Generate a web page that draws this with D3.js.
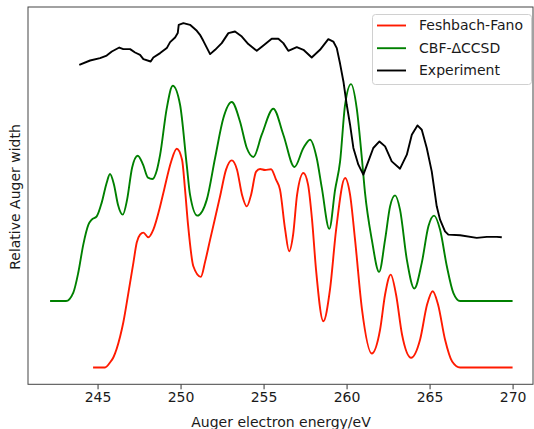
<!DOCTYPE html>
<html>
<head>
<meta charset="utf-8">
<script src="https://cdn.jsdelivr.net/npm/d3@7"></script>
<style>
  html, body { margin: 0; padding: 0; background: #fff; }
  svg { display: block; font-family: "DejaVu Sans", sans-serif; }
</style>
</head>
<body>
<div id="chart"></div>
<script>
// ---- Data (energy in eV, relative Auger width in arbitrary units) ----
const xTicks = [245, 250, 255, 260, 265, 270];
const seriesNames = ["Feshbach-Fano", "CBF-\u0394CCSD", "Experiment"];
const seriesColors = ["#ff1a00", "#008000", "#000000"];

const fanoE = [244.73,245.45,245.75,245.95,246.36,246.55,246.86,247.16,247.36,247.56,247.76,248.06,248.36,248.77,249.01,249.43,249.77,250.09,250.27,250.45,250.77,251.22,251.48,251.78,252.38,252.74,253.08,253.40,253.70,253.99,254.25,254.55,254.79,255.09,255.45,255.75,255.99,256.30,256.54,256.78,257.02,257.40,257.68,257.92,258.16,258.60,259.00,259.37,259.91,260.21,260.51,260.93,261.52,262.02,262.32,262.66,262.98,263.34,263.89,264.43,264.85,265.19,265.51,265.93,266.36,266.84,270.00];
const fanoW = [0,0,1.45,2.91,9.01,13.08,21.80,30.52,36.34,38.66,39.24,37.88,40.12,46.89,51.74,59.88,63.66,60.47,51.74,41.57,29.45,26.37,30.8,37.21,49.80,57.56,60.26,57.56,50.29,46.89,50.29,56.98,57.76,57.47,57.70,54.65,51.74,40.12,33.81,38.66,50.29,56.60,53.20,43.02,28.49,13.46,22.67,40.12,55.15,50.29,37.21,16.86,4.07,11.05,21.22,27.03,21.22,9.59,2.82,8.14,18.31,22.18,18.31,8.14,1.74,0,0];

const cbfE = [242.14,243.10,243.54,243.84,244.14,244.45,244.65,244.95,245.25,245.55,245.75,245.99,246.23,246.52,246.78,247.08,247.42,247.74,248.04,248.30,248.58,248.77,249.17,249.53,249.97,250.37,250.57,251.01,251.58,252.08,252.58,253.08,253.58,253.99,254.39,254.89,255.59,256.19,256.86,257.40,257.80,258.20,258.51,258.96,259.31,259.61,259.91,260.27,260.61,260.92,261.11,261.52,261.96,262.32,262.62,262.92,263.22,263.63,264.08,264.53,264.93,265.27,265.63,266.04,266.43,266.84,270.00];
const cbfW = [19.33,19.33,21.80,27.62,35.76,41.57,43.02,43.98,47.97,53.78,56.31,53.20,47.38,44.48,48.84,58.14,61.63,59.01,55.23,54.85,57.56,61.92,75.49,81.98,76.45,59.01,50.29,44.19,48.84,60.96,72.59,77.24,71.60,63.87,61.25,67.73,75.29,67.73,58.34,63.87,66.28,60.96,52.24,40.32,51.74,59.97,76.45,82.47,75.49,60.96,50.87,37.21,27.82,37.21,46.89,50.09,45.93,31.40,22.97,30.44,41.08,44.19,40.12,29.45,21.72,19.33,19.33];

const expE = [243.90,244.55,245.15,245.55,245.86,246.31,246.55,246.96,247.26,247.56,247.76,248.20,248.36,248.77,249.17,249.37,249.67,249.83,249.89,250.17,250.57,250.98,251.17,251.37,251.78,252.08,252.48,252.88,253.28,253.69,254.08,254.59,254.99,255.49,255.89,256.19,256.49,257.00,257.40,257.90,258.40,258.90,259.20,259.41,259.61,259.81,260.01,260.21,260.41,260.71,261.01,261.31,261.61,261.98,262.32,262.72,263.22,263.63,263.93,264.27,264.53,264.83,265.13,265.33,265.43,265.63,265.93,266.13,266.84,267.84,268.45,269.05,269.35];
const expW = [88.08,89.33,90.03,90.78,91.95,93.11,92.65,92.65,91.66,90.99,89.74,89.04,90.20,91.48,92.94,94.68,96.02,97.30,99.71,100.20,99.71,97.97,96.80,95.06,91.19,92.44,94.39,97.30,97.76,96.31,94.10,92.15,93.69,95.64,95.64,94.39,92.15,93.23,92.44,90.20,92.44,95.55,94.85,92.94,88.37,83.23,76.45,70.64,63.87,59.01,56.10,59.97,63.87,65.78,64.33,59.97,57.85,61.92,67.73,70.44,69.19,63.87,57.06,50.29,46.89,43.02,39.62,38.66,38.46,37.70,37.99,37.99,37.88];

// ---- Layout ----
const W = 534, H = 429;
const margin = { left: 28, right: 1, top: 7, bottom: 44.7 };
const x0 = margin.left, x1 = W - margin.right, y0 = margin.top, y1 = H - margin.bottom;
const FS = "14px";

const svg = d3.select("#chart").append("svg").attr("width", W).attr("height", H);

const x = d3.scaleLinear().domain([240.81, 271.23]).range([x0, x1]);
const y = d3.scaleLinear().domain([-4.9, 104.9]).range([y1, y0]);

svg.append("clipPath").attr("id", "clip").append("rect")
  .attr("x", x0).attr("y", y0).attr("width", x1 - x0).attr("height", y1 - y0);

const plot = svg.append("g").attr("clip-path", "url(#clip)");

function drawLine(E, V, color, curve) {
  const pts = E.map((e, i) => [e, V[i]]);
  plot.append("path")
    .datum(pts)
    .attr("fill", "none")
    .attr("stroke", color)
    .attr("stroke-width", 1.9)
    .attr("stroke-linejoin", "round")
    .attr("stroke-linecap", "butt")
    .attr("d", d3.line().x(d => x(d[0])).y(d => y(d[1])).curve(curve));
}

drawLine(fanoE, fanoW, seriesColors[0], d3.curveMonotoneX);
drawLine(cbfE, cbfW, seriesColors[1], d3.curveMonotoneX);
drawLine(expE, expW, seriesColors[2], d3.curveLinear);

// ---- Axes ----
const xAxis = d3.axisBottom(x).tickValues(xTicks).tickSize(5).tickPadding(2.5).tickFormat(d3.format("d"));
const gx = svg.append("g").attr("transform", `translate(0,${y1})`).call(xAxis);
gx.select(".domain").remove();
gx.selectAll(".tick line").attr("stroke", "#333").attr("stroke-width", 1);
gx.selectAll(".tick text").attr("font-size", FS).attr("fill", "#1a1a1a").attr("font-family", "DejaVu Sans, sans-serif");

// spines
svg.append("rect").attr("x", x0).attr("y", y0).attr("width", x1 - x0).attr("height", y1 - y0)
  .attr("fill", "none").attr("stroke", "#444").attr("stroke-width", 1);

// labels
svg.append("text").attr("x", 281).attr("y", 427)
  .attr("text-anchor", "middle").attr("font-size", FS).attr("fill", "#1a1a1a")
  .text("Auger electron energy/eV");
svg.append("text").attr("transform", `translate(19.5,197) rotate(-90)`)
  .attr("text-anchor", "middle").attr("font-size", FS).attr("fill", "#1a1a1a")
  .text("Relative Auger width");

// ---- Legend ----
const leg = svg.append("g");
leg.append("rect").attr("x", 372.5).attr("y", 14.5).attr("width", 159).attr("height", 70)
  .attr("rx", 3).attr("fill", "#fff").attr("fill-opacity", 0.8)
  .attr("stroke", "#d0d0d0").attr("stroke-width", 1);
const rowY = [25.5, 48.2, 70.5];
seriesNames.forEach((name, i) => {
  leg.append("line").attr("x1", 377).attr("x2", 406).attr("y1", rowY[i]).attr("y2", rowY[i])
    .attr("stroke", seriesColors[i]).attr("stroke-width", 1.9);
  leg.append("text").attr("x", 419).attr("y", rowY[i]).attr("dy", "0.35em")
    .attr("font-size", FS).attr("fill", "#1a1a1a").text(name);
});
</script>
</body>
</html>
